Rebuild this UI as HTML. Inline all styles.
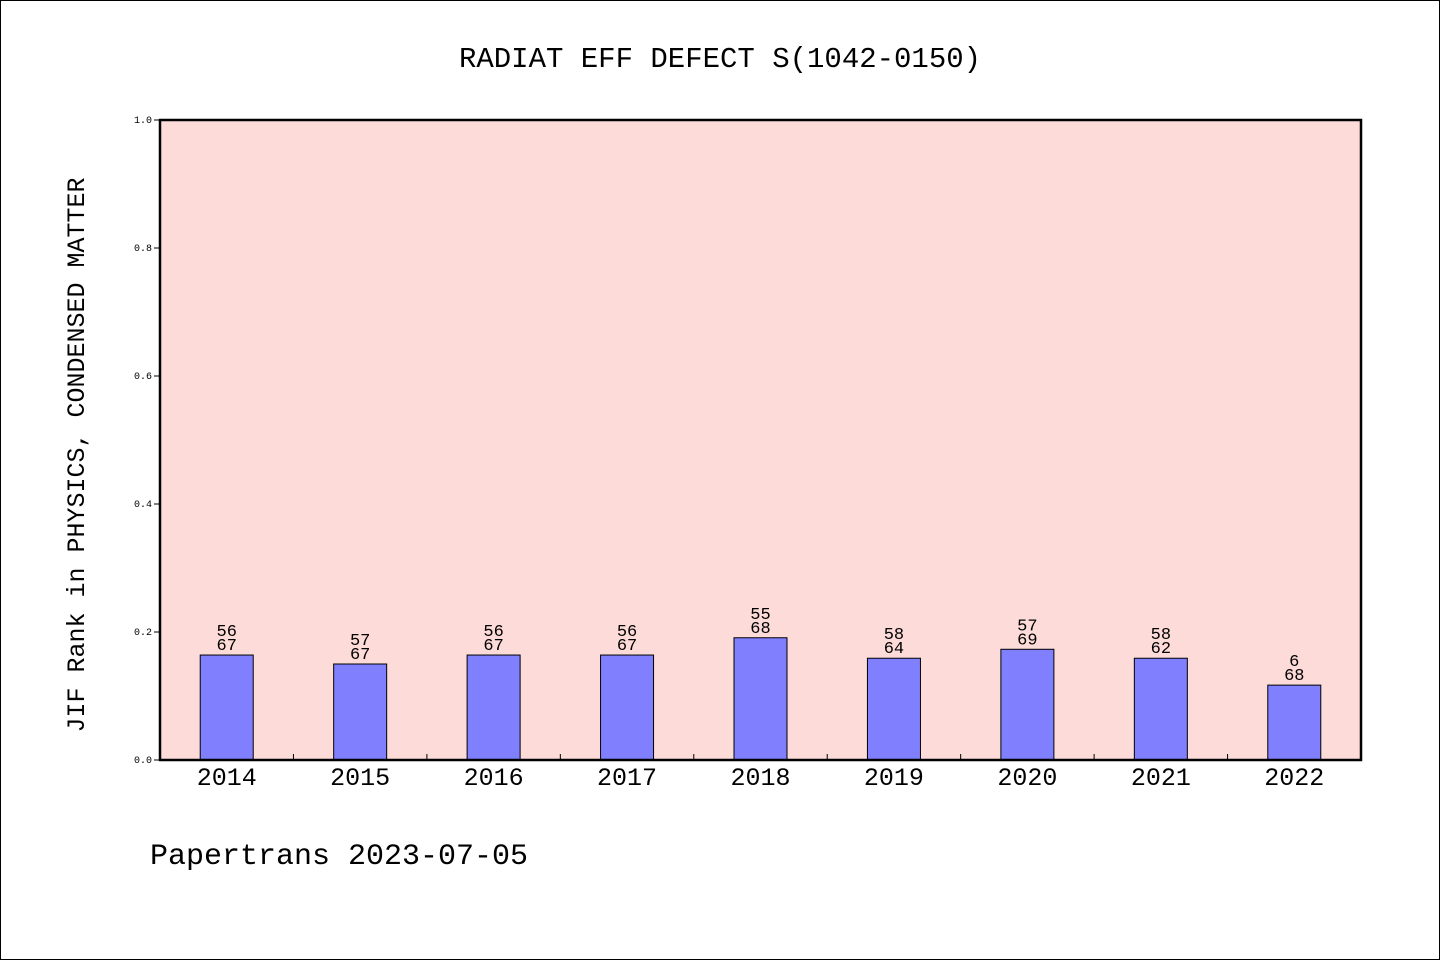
<!DOCTYPE html>
<html><head><meta charset="utf-8"><style>
body{margin:0;background:#fff}
svg{display:block}
text{font-family:"Liberation Mono","WenQuanYi Zen Hei",monospace;fill:#000}
</style></head><body>
<svg width="1440" height="960" viewBox="0 0 1440 960">
<rect x="0.5" y="0.5" width="1439" height="959" fill="#fff" stroke="#000"/>
<text x="720" y="67" font-size="29" text-anchor="middle">RADIAT EFF DEFECT S(1042-0150)</text>
<rect x="160" y="120" width="1201" height="640" fill="#fddbd8"/>
<g id="yticks"></g>
<g id="bars"></g>
<rect x="160" y="120" width="1201" height="640" fill="none" stroke="#000" stroke-width="2.5"/>
<text transform="translate(84,455) rotate(-90)" font-size="25" text-anchor="middle">JIF Rank in PHYSICS, CONDENSED MATTER</text>
<text x="150" y="864" font-size="30">Papertrans 2023-07-05</text>
</svg>
<script>
const years=["2014","2015","2016","2017","2018","2019","2020","2021","2022"];
const values=[0.164,0.150,0.164,0.164,0.191,0.159,0.173,0.159,0.117];
const ranks=["56","57","56","56","55","58","57","58","6"];
const totals=["67","67","67","67","68","64","69","62","68"];
const yTicks=[0,0.2,0.4,0.6,0.8,1.0];
const NS="http://www.w3.org/2000/svg";
const x0=160,x1=1361,y0=760,y1=120;
const bw=(x1-x0)/years.length;
const ys=v=>y0-(y0-y1)*v;
const xs=i=>x0+bw*(i+0.5);
function mk(t,a,p){const e=document.createElementNS(NS,t);for(const k in a)e.setAttribute(k,a[k]);p.appendChild(e);return e;}
const yt=document.getElementById('yticks');
yTicks.forEach(v=>{
 const l=mk('line',{x1:x0-6,x2:x0,y1:ys(v),y2:ys(v),stroke:'#000'},yt);
 
 
 const t=mk('text',{x:x0-8,y:ys(v)+3,'font-size':10,'text-anchor':'end'},yt);
 t.textContent=v.toFixed(1);
 
 
});
const bg=document.getElementById('bars');
years.forEach((y,i)=>{
 const c=xs(i),top=ys(values[i]);
 const r=mk('rect',{x:c-26.5,y:top,width:53,height:y0-top,fill:'#8080ff',stroke:'#000','stroke-width':1},bg);
 
 
 const a=mk('text',{x:c,y:top-19,'font-size':17,'text-anchor':'middle'},bg);
 a.textContent=ranks[i];
 
 
 const b=mk('text',{x:c,y:top-5,'font-size':17,'text-anchor':'middle'},bg);
 b.textContent=totals[i];
 
 
 const t=mk('text',{x:c,y:785,'font-size':25,'text-anchor':'middle'},bg);
 t.textContent=y;
 
 
 if(i>0){const tk=mk('line',{x1:x0+bw*i,x2:x0+bw*i,y1:y0,y2:y0-6,stroke:'#000'},bg);
 
 }
});
</script>
</body></html>
